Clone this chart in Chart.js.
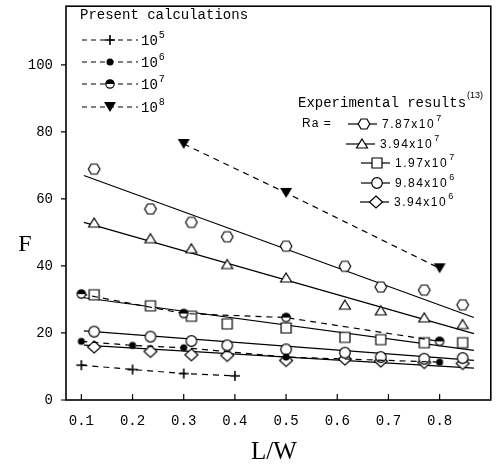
<!DOCTYPE html>
<html>
<head>
<meta charset="utf-8">
<script src="https://cdn.jsdelivr.net/npm/chart.js@4.4.0/dist/chart.umd.min.js"></script>
<style>
  html, body { margin: 0; padding: 0; background: #fff; }
  #wrap { width: 497px; height: 464px; }
</style>
</head>
<body>
<div id="wrap"><canvas id="chart" width="497" height="464"></canvas></div>
<script>
// Present calculations (dashed lines), one array per Ra
const calcX5 = [0.1, 0.2, 0.3, 0.4];
const calcF5 = [10.4, 9.1, 7.9, 7.2];
const calcX6 = [0.1, 0.2, 0.3, 0.5, 0.8];
const calcF6 = [17.5, 16.3, 15.6, 12.8, 11.3];
const calcX7 = [0.1, 0.3, 0.5, 0.8];
const calcF7 = [31.6, 25.8, 24.6, 17.5];
const calcX8 = [0.3, 0.5, 0.8];
const calcF8 = [76.4, 61.8, 39.3];

// Experimental results (13)
const expX = [0.125, 0.235, 0.315, 0.385, 0.5, 0.615, 0.685, 0.77, 0.845];
const expF787e7 = [68.9, 57.0, 53.0, 48.7, 45.9, 39.9, 33.7, 32.8, 28.4];
const expF394e7 = [52.8, 48.1, 45.1, 40.4, 36.4, 28.3, 26.6, 24.5, 22.5];
const expF197e7 = [31.4, 28.1, 25.0, 22.7, 21.5, 18.7, 18.0, 17.1, 17.1];
const expF984e6 = [20.4, 18.9, 17.6, 16.3, 15.1, 14.1, 12.8, 12.3, 12.5];
const expF394e6 = [15.8, 14.5, 13.5, 13.3, 11.8, 12.2, 11.6, 11.2, 10.9];

// straight fit lines through the experiments
const fitX = [0.105, 0.867];
const fit787e7 = [67.0, 24.6];
const fit394e7 = [53.0, 19.8];
const fit197e7 = [30.5, 14.8];
const fit984e6 = [20.6, 11.8];
const fit394e6 = [16.4, 9.5];

const xTicks = [0.1, 0.2, 0.3, 0.4, 0.5, 0.6, 0.7, 0.8];
const yTicks = [0, 20, 40, 60, 80, 100];

const calcLabels = ['5', '6', '7', '8'];
const expLabels = [['7.87', '7'], ['3.94', '7'], ['1.97', '7'], ['9.84', '6'], ['3.94', '6']];

function zip(xs, ys) {
    return xs.map((x, i) => ({ x: x, y: ys[i] }));
}

// dessine un symbole centré sur (cx, cy)
function drawMarker(ctx, kind, cx, cy) {
    ctx.save();
    ctx.lineWidth = 1.2;
    ctx.strokeStyle = '#000';
    ctx.fillStyle = '#fff';
    ctx.setLineDash([]);
    ctx.beginPath();
    if (kind === 'plus') {
        ctx.moveTo(cx - 5, cy); ctx.lineTo(cx + 5, cy);
        ctx.moveTo(cx, cy - 5); ctx.lineTo(cx, cy + 5);
        ctx.lineWidth = 1.6;
        ctx.stroke();
    } else if (kind === 'dot') {
        ctx.arc(cx, cy, 3.5, 0, Math.PI * 2);
        ctx.fillStyle = '#000';
        ctx.fill();
    } else if (kind === 'half') {
        ctx.arc(cx, cy, 4.2, 0, Math.PI * 2);
        ctx.fill();
        ctx.stroke();
        ctx.beginPath();
        ctx.arc(cx, cy, 4.2, Math.PI, Math.PI * 2);
        ctx.closePath();
        ctx.fillStyle = '#000';
        ctx.fill();
    } else if (kind === 'down') {
        ctx.moveTo(cx - 6, cy - 5);
        ctx.lineTo(cx + 6, cy - 5);
        ctx.lineTo(cx, cy + 5);
        ctx.closePath();
        ctx.fillStyle = '#000';
        ctx.fill();
    } else if (kind === 'hex') {
        for (let i = 0; i < 6; i++) {
            const a = Math.PI / 3 * i;
            const px = cx + 5.8 * Math.cos(a), py = cy + 5.8 * Math.sin(a);
            if (i === 0) ctx.moveTo(px, py); else ctx.lineTo(px, py);
        }
        ctx.closePath();
        ctx.fill();
        ctx.stroke();
    } else if (kind === 'tri') {
        ctx.moveTo(cx, cy - 5);
        ctx.lineTo(cx + 5.5, cy + 4);
        ctx.lineTo(cx - 5.5, cy + 4);
        ctx.closePath();
        ctx.fill();
        ctx.stroke();
    } else if (kind === 'sq') {
        ctx.rect(cx - 5, cy - 5, 10, 10);
        ctx.fill();
        ctx.stroke();
    } else if (kind === 'circ') {
        ctx.arc(cx, cy, 5.3, 0, Math.PI * 2);
        ctx.fill();
        ctx.stroke();
    } else if (kind === 'dia') {
        ctx.moveTo(cx, cy - 6);
        ctx.lineTo(cx + 6.5, cy);
        ctx.lineTo(cx, cy + 6);
        ctx.lineTo(cx - 6.5, cy);
        ctx.closePath();
        ctx.fill();
        ctx.stroke();
    }
    ctx.restore();
}

function markerImage(kind) {
    const c = document.createElement('canvas');
    c.width = 18; c.height = 18;
    drawMarker(c.getContext('2d'), kind, 9, 9);
    return c;
}

function calcSet(xs, ys, kind) {
    return {
        data: zip(xs, ys),
        showLine: true,
        borderColor: '#000',
        borderWidth: 1.2,
        borderDash: [6, 5],
        pointStyle: markerImage(kind),
        pointRadius: 5,
        order: 0
    };
}

function expSet(ys, kind) {
    return {
        data: zip(expX, ys),
        showLine: false,
        pointStyle: markerImage(kind),
        pointRadius: 5,
        order: 1
    };
}

function fitSet(ys) {
    return {
        data: zip(fitX, ys),
        showLine: true,
        borderColor: '#000',
        borderWidth: 1.2,
        pointRadius: 0,
        order: 2
    };
}

function supText(ctx, base, sup, x, y, font, supFont) {
    ctx.font = font;
    ctx.fillText(base, x, y);
    const w = ctx.measureText(base).width;
    ctx.font = supFont;
    ctx.fillText(sup, x + w + 1, y - 6);
}

// cadre, graduations, titres et légendes dessinés à la main
const framePlugin = {
    id: 'frame',
    afterDraw(chart) {
        const ctx = chart.ctx;
        const a = chart.chartArea;
        const xs = chart.scales.x, ys = chart.scales.y;
        ctx.save();
        ctx.strokeStyle = '#000';
        ctx.fillStyle = '#000';
        ctx.lineWidth = 1.6;
        ctx.strokeRect(a.left, a.top, a.right - a.left, a.bottom - a.top);
        ctx.lineWidth = 1.2;
        ctx.beginPath();
        xTicks.forEach(v => {
            const px = xs.getPixelForValue(v);
            ctx.moveTo(px, a.bottom);
            ctx.lineTo(px, a.bottom - 6);
        });
        yTicks.forEach(v => {
            const py = ys.getPixelForValue(v);
            ctx.moveTo(a.left - 5, py);
            ctx.lineTo(a.left, py);
        });
        ctx.stroke();

        // titres des axes
        ctx.textBaseline = 'middle';
        ctx.textAlign = 'center';
        ctx.font = '24px "Liberation Serif"';
        ctx.fillText('F', 25, 245);
        ctx.font = '25px "Liberation Serif"';
        ctx.fillText('L/W', 274, 452);

        // légende des calculs
        ctx.textAlign = 'left';
        ctx.font = '14px "Liberation Mono"';
        ctx.fillText('Present calculations', 80, 15);
        const calcKinds = ['plus', 'dot', 'half', 'down'];
        const calcRows = [40, 62, 84, 107];
        calcRows.forEach((ry, i) => {
            ctx.save();
            ctx.lineWidth = 1.2;
            ctx.setLineDash([5, 4]);
            ctx.beginPath();
            ctx.moveTo(82, ry);
            ctx.lineTo(138, ry);
            ctx.stroke();
            ctx.restore();
            drawMarker(ctx, calcKinds[i], 110, ry);
            supText(ctx, '10', calcLabels[i], 141, ry + 1, '14px "Liberation Mono"', '10px "Liberation Mono"');
        });

        // légende des expériences
        ctx.font = '14px "Liberation Mono"';
        ctx.fillText('Experimental results', 298, 103);
        const ew = ctx.measureText('Experimental results').width;
        ctx.font = '9px "Liberation Sans"';
        ctx.fillText('(13)', 298 + ew + 1, 96);
        ctx.font = '12px "Liberation Sans"';
        ctx.letterSpacing = '1px';
        ctx.fillText('Ra =', 302, 124);
        const expKinds = ['hex', 'tri', 'sq', 'circ', 'dia'];
        const expRows = [124, 144, 163, 183, 202];
        const expMark = [364, 362, 377, 377, 376];
        expRows.forEach((ry, i) => {
            const mx = expMark[i];
            ctx.lineWidth = 1.2;
            ctx.beginPath();
            ctx.moveTo(mx - 16, ry);
            ctx.lineTo(mx + 13, ry);
            ctx.stroke();
            drawMarker(ctx, expKinds[i], mx, ry);
            ctx.letterSpacing = '1.5px';
            supText(ctx, expLabels[i][0] + 'x10', expLabels[i][1], mx + 18, ry + 1,
                '12px "Liberation Sans"', '9px "Liberation Sans"');
        });
        ctx.letterSpacing = '0px';
        ctx.restore();
    }
};

new Chart(document.getElementById('chart').getContext('2d'), {
    type: 'scatter',
    data: {
        datasets: [
            calcSet(calcX5, calcF5, 'plus'),
            calcSet(calcX6, calcF6, 'dot'),
            calcSet(calcX7, calcF7, 'half'),
            calcSet(calcX8, calcF8, 'down'),
            expSet(expF787e7, 'hex'),
            expSet(expF394e7, 'tri'),
            expSet(expF197e7, 'sq'),
            expSet(expF984e6, 'circ'),
            expSet(expF394e6, 'dia'),
            fitSet(fit787e7),
            fitSet(fit394e7),
            fitSet(fit197e7),
            fitSet(fit984e6),
            fitSet(fit394e6)
        ]
    },
    options: {
        responsive: false,
        animation: false,
        devicePixelRatio: 1,
        layout: { padding: { left: 0, top: 5, right: 5, bottom: 0 } },
        plugins: { legend: { display: false }, tooltip: { enabled: false } },
        scales: {
            x: {
                type: 'linear',
                min: 0.07,
                max: 0.9,
                grid: { display: false, drawTicks: false },
                border: { display: false },
                afterFit: (scale) => {
                    scale.height = 64;
                    scale.paddingLeft = 0;
                    scale.paddingRight = 0;
                },
                afterBuildTicks: (scale) => { scale.ticks = xTicks.map(v => ({ value: v })); },
                ticks: {
                    padding: 13,
                    color: '#000',
                    font: { family: 'Liberation Mono', size: 14 },
                    callback: (v) => v.toFixed(1)
                }
            },
            y: {
                type: 'linear',
                min: 0,
                max: 117.5,
                grid: { display: false, drawTicks: false },
                border: { display: false },
                afterFit: (scale) => {
                    scale.width = 66;
                    scale.paddingTop = 0;
                    scale.paddingBottom = 0;
                },
                afterBuildTicks: (scale) => { scale.ticks = yTicks.map(v => ({ value: v })); },
                ticks: {
                    padding: 13,
                    color: '#000',
                    font: { family: 'Liberation Mono', size: 14 },
                    callback: (v) => String(v)
                }
            }
        }
    },
    plugins: [framePlugin]
});
</script>
</body>
</html>
